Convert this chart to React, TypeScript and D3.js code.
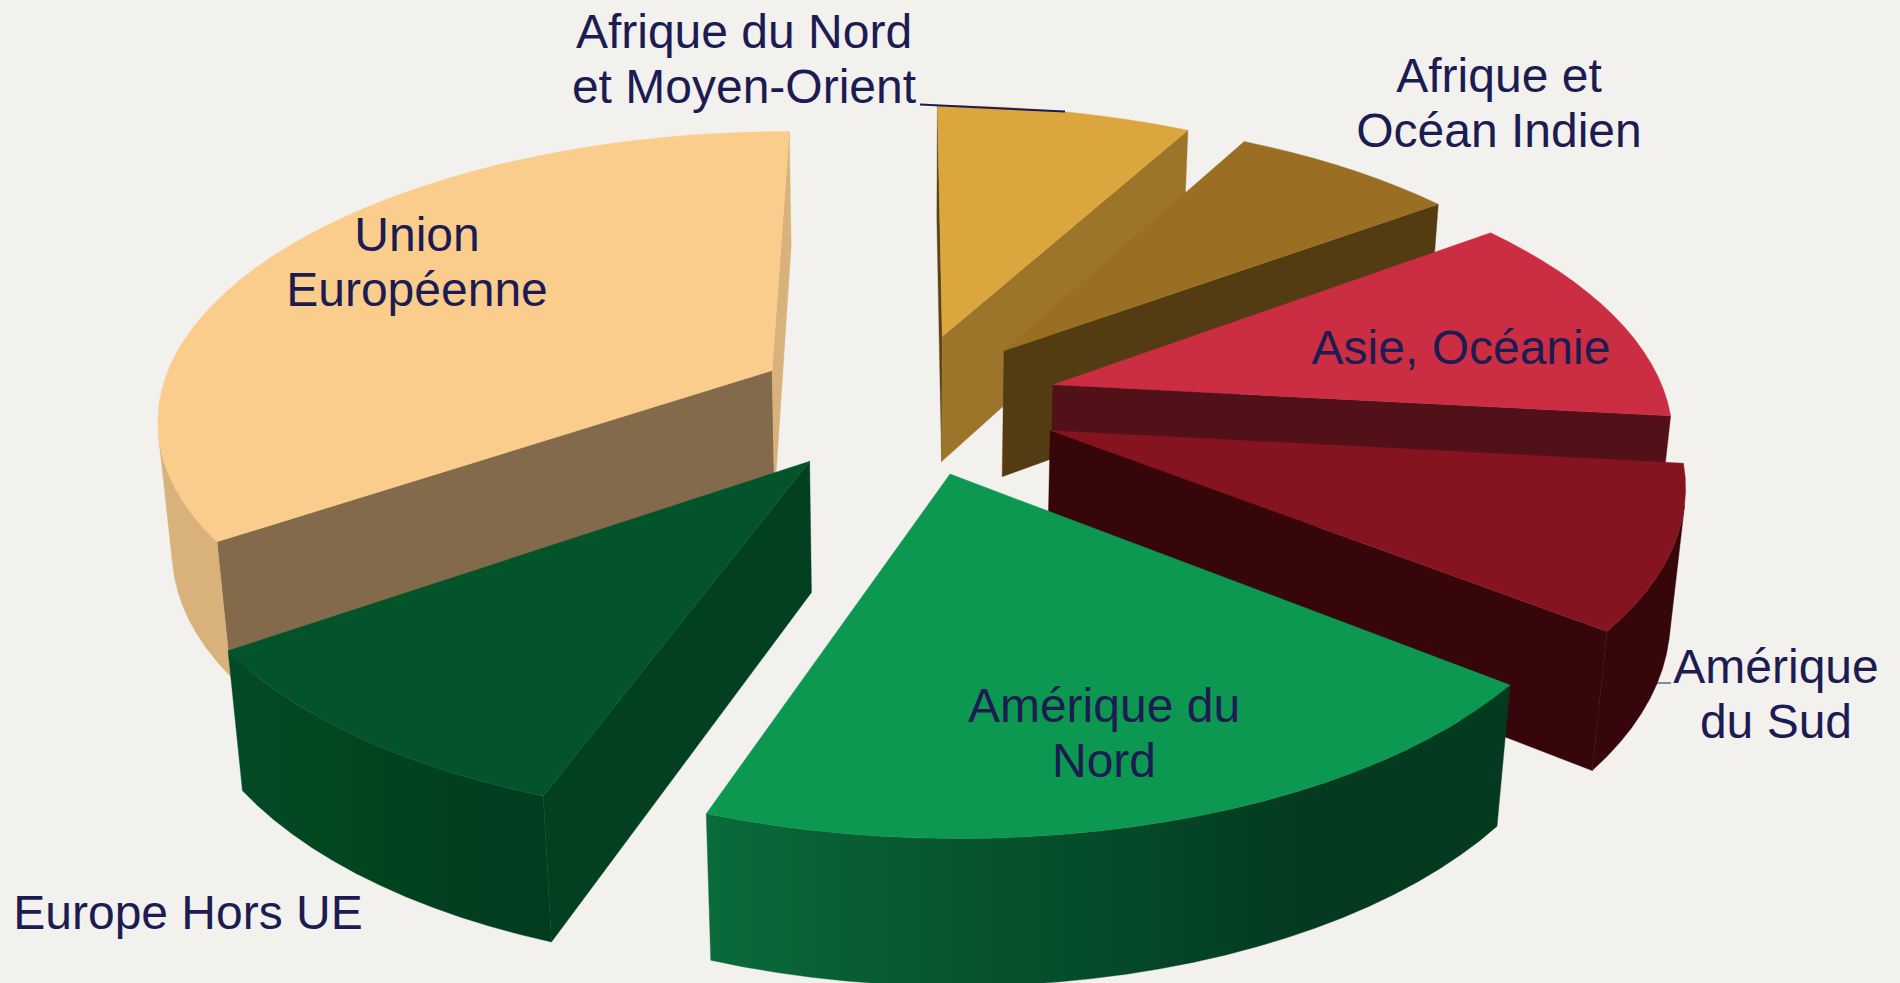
import React from "react";
import * as d3 from "d3";

type Pt = [number, number];

const categories = [
  "Afrique du Nord et Moyen-Orient",
  "Afrique et Océan Indien",
  "Asie, Océanie",
  "Amérique du Sud",
  "Amérique du Nord",
  "Europe Hors UE",
  "Union Européenne",
];
const values = [7.9, 7.0, 11.85, 8.9, 19.8, 9.9, 34.65];
const topColors = ["#DCA63E", "#9A6F24", "#CB2E43", "#861420", "#0C9850", "#03542B", "#FBCD8C"];
const startFaceColors = ["#5C4315", "#6E4F19", "#521019", "#36060A", "#033A20", "#03401F", "#826A4A"];
const endFaceColors = ["#9C752B", "#533B12", "#521019", "#36060A", "#033A20", "#03401F", "#D9B27B"];
// Outer wall colours, left to right on the screen
const rimColors: string[][] = [
  ["#9C752B"],
  ["#533B12"],
  ["#521019"],
  ["#36060A"],
  ["#0A6B3B", "#07592F", "#054A29", "#033A20", "#033A20"],
  ["#034A26", "#03461F", "#02401F", "#023C1F"],
  ["#D9B27B"],
];
const paintOrder = [0, 1, 2, 3, 6, 5, 4];
const facetDegrees = 2.8125;

const labelLines: { lines: string[]; x: number; y: number }[] = [
  { lines: ["Afrique du Nord", "et Moyen-Orient"], x: 744, y: 48 },
  { lines: ["Afrique et", "Océan Indien"], x: 1499, y: 92 },
  { lines: ["Asie, Océanie"], x: 1461, y: 364 },
  { lines: ["Union", "Européenne"], x: 417, y: 251 },
  { lines: ["Amérique du", "Nord"], x: 1104, y: 722 },
  { lines: ["Amérique", "du Sud"], x: 1776, y: 683 },
  { lines: ["Europe Hors UE"], x: 188, y: 929 },
];
const leaders: [Pt, Pt, number][] = [
  [[920, 104.5], [1065, 111.5], 2],
  [[1655, 683], [1671, 683], 1],
];

// Camera and pie geometry
const cx = 905.93, cy = 403.0, px = 904.13, elevation = (27.59 * Math.PI) / 180, D = 3572.65;
const radius = 614.77, height = 147.66, explode = 0.25;

const sinE = Math.sin(elevation), cosE = Math.cos(elevation);
function project(X: number, Y: number, Z: number): Pt {
  const yc = Y * sinE + Z * cosE, zc = D + Y * cosE - Z * sinE;
  return [px + ((X + cx - px) * D) / zc, cy - (yc * D) / zc];
}
const line = d3.line<Pt>();

type Face = { key: string; d: string; fill: string };
type Grad = { id: string; x1: number; x2: number; colors: string[] };

function build() {
  const arcs = d3.pie<number>().sort(null).value((d) => d)(values);
  const out: Face[] = [];
  const grads: Grad[] = [];
  for (const i of paintOrder) {
    const a = arcs[i];
    const th0 = Math.PI / 2 - a.startAngle, th1 = Math.PI / 2 - a.endAngle;
    const mid = (th0 + th1) / 2, ox = radius * explode * Math.cos(mid), oy = radius * explode * Math.sin(mid);
    const rimPt = (t: number, z: number) => project(ox + radius * Math.cos(t), oy + radius * Math.sin(t), z);
    const apex = (z: number) => project(ox, oy, z);
    const steps = Math.max(2, Math.ceil(((th0 - th1) * 180) / Math.PI / facetDegrees));
    const tScale = d3.scaleLinear().domain([0, steps]).range([th0, th1]);
    const add = (key: string, pts: Pt[], fill: string) => {
      if (d3.polygonArea(pts) <= 0) return;
      out.push({ key: `${i}-${key}`, d: line(pts)! + "Z", fill });
    };
    add("s", [apex(0), rimPt(th0, 0), rimPt(th0, -height), apex(-height)], startFaceColors[i]);
    add("e", [rimPt(th1, 0), apex(0), apex(-height), rimPt(th1, -height)], endFaceColors[i]);

    // outer wall: the facets that look to the camera, joined in one shape
    const upper: Pt[] = [], lower: Pt[] = [];
    for (let k = 0; k < steps; k++) {
      const t0 = tScale(k), t1 = tScale(k + 1);
      if (d3.polygonArea([rimPt(t0, 0), rimPt(t1, 0), rimPt(t1, -height), rimPt(t0, -height)]) <= 0) continue;
      if (!upper.length) { upper.push(rimPt(t0, 0)); lower.push(rimPt(t0, -height)); }
      upper.push(rimPt(t1, 0)); lower.push(rimPt(t1, -height));
    }
    if (upper.length) {
      const pts = [...upper, ...lower.reverse()];
      const colors = rimColors[i];
      if (colors.length === 1) {
        out.push({ key: `${i}-rim`, d: line(pts)! + "Z", fill: colors[0] });
      } else {
        const [x1, x2] = d3.extent(pts, (p) => p[0]) as [number, number];
        const id = `rim${i}`;
        grads.push({ id, x1, x2, colors });
        out.push({ key: `${i}-rim`, d: line(pts)! + "Z", fill: `url(#${id})` });
      }
    }
    const top: Pt[] = [apex(0)];
    for (let k = 0; k <= steps; k++) top.push(rimPt(tScale(k), 0));
    out.push({ key: `${i}-top`, d: line(top)! + "Z", fill: topColors[i] });
  }
  return { out, grads };
}

export default function App() {
  const { out, grads } = build();
  return (
    <svg width={1900} height={983} style={{ position: "absolute", left: 0, top: 0, display: "block", background: "#F2F1ED" }}>
      <defs>
        {grads.map((g) => (
          <linearGradient key={g.id} id={g.id} gradientUnits="userSpaceOnUse" x1={g.x1} x2={g.x2} y1={0} y2={0}>
            {g.colors.map((c, k) => (
              <stop key={k} offset={k / (g.colors.length - 1)} stopColor={c} />
            ))}
          </linearGradient>
        ))}
      </defs>
      <g>
        {out.map((s) => (
          <path key={s.key} d={s.d} fill={s.fill} stroke={s.fill} strokeWidth={0.4} strokeLinejoin="round" />
        ))}
      </g>
      {leaders.map(([a, b, w], i) => (
        <line key={i} x1={a[0]} y1={a[1]} x2={b[0]} y2={b[1]} stroke="#1C1C52" strokeWidth={w} />
      ))}
      <g fontFamily="'Liberation Sans', Arial, sans-serif" fontSize={48} fill="#1C1C52" textAnchor="middle">
        {labelLines.map((l, i) => (
          <text key={categories[i]} x={l.x} y={l.y}>
            {l.lines.map((t, k) => (
              <tspan key={k} x={l.x} dy={k === 0 ? 0 : 54.5}>{t}</tspan>
            ))}
          </text>
        ))}
      </g>
    </svg>
  );
}
